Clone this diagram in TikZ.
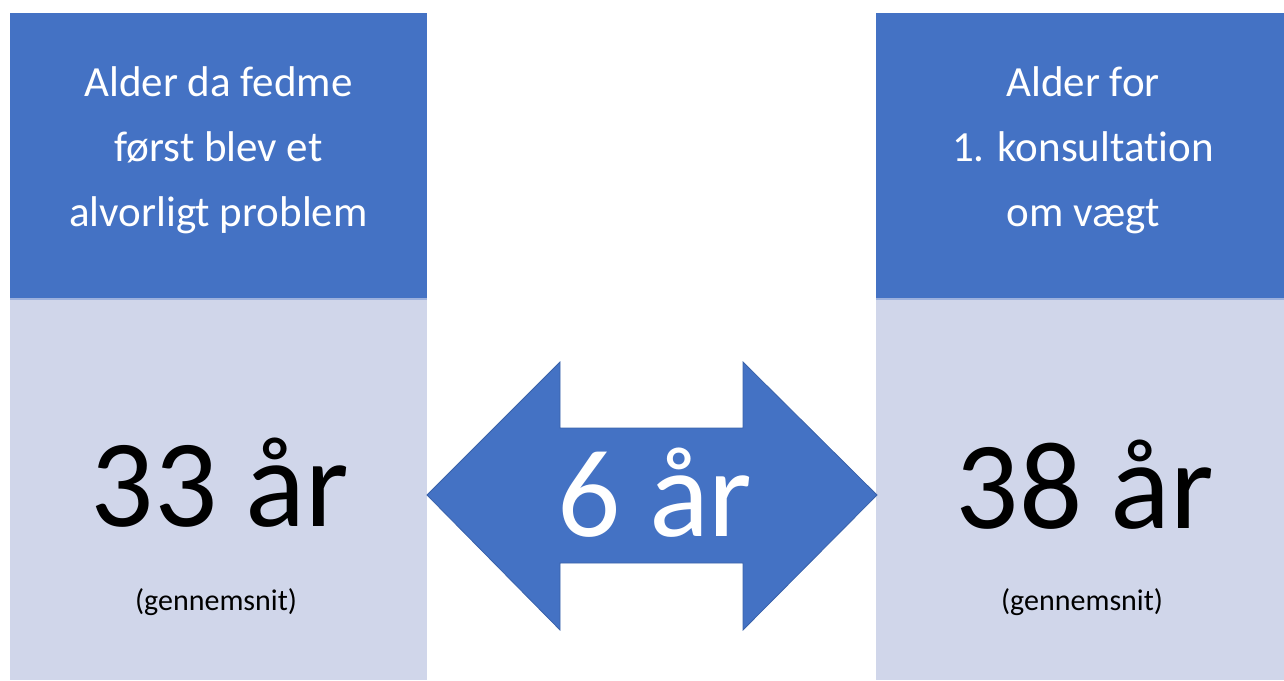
\documentclass[tikz,border=0pt]{standalone}
\usepackage{fontspec}
\setmainfont{Carlito}[Ligatures=NoCommon]
\definecolor{headblue}{HTML}{4472C4}
\definecolor{bodyblue}{HTML}{D0D6EA}
\definecolor{seamblue}{HTML}{9DB1DD}
\definecolor{edgeblue}{HTML}{3A62AA}
\begin{document}
\begin{tikzpicture}[x=1pt,y=-1pt,
  headcell/.style={fill=headblue,draw=none},
  bodycell/.style={fill=bodyblue,draw=none},
  headtext/.style={anchor=base,text=white,font=\fontsize{43}{43}\selectfont,inner sep=0pt},
  bigtext/.style={anchor=base,font=\fontsize{125}{125}\selectfont,inner sep=0pt},
  smalltext/.style={anchor=base,font=\fontsize{30}{30}\selectfont,inner sep=0pt}]
\useasboundingbox (0,0) rectangle (1284,680);

% left column
\fill[headcell] (10,13) rectangle (427,299);
\fill[bodycell] (10,299) rectangle (427,680);
\draw[seamblue,line width=1.5pt] (10,299) -- (427,299);
% right column
\fill[headcell] (876,13) rectangle (1284,299);
\fill[bodycell] (876,299) rectangle (1284,680);
\draw[seamblue,line width=1.5pt] (876,299) -- (1284,299);

% double arrow between the columns
\draw[fill=headblue,draw=edgeblue,line width=0.8pt,line join=miter]
  (427,495) -- (560,362) -- (560,428) -- (743,428) -- (743,362) -- (877,495)
  -- (743,630) -- (743,563) -- (560,563) -- (560,630) -- cycle;

% headings
\node[headtext] (l1) at (218.5,96) {Alder da fedme};
\node[headtext] (l2) at (218.5,161) {først blev et};
\node[headtext] (l3) at (218.5,226) {alvorligt problem};
\node[headtext] (r1) at (1083,96) {Alder for};
\node[headtext] (r2) at (1083,161) {1. konsultation};
\node[headtext] (r3) at (1083,226) {om vægt};

% values
\node[bigtext] (lval) at (220,526) {33 år};
\node[bigtext,text=white] (mval) at (655,536) {6 år};
\node[bigtext] (rval) at (1085,528) {38 år};
\node[smalltext] (lnote) at (216,610) {(gennemsnit)};
\node[smalltext] (rnote) at (1082,610) {(gennemsnit)};
\end{tikzpicture}
\end{document}
